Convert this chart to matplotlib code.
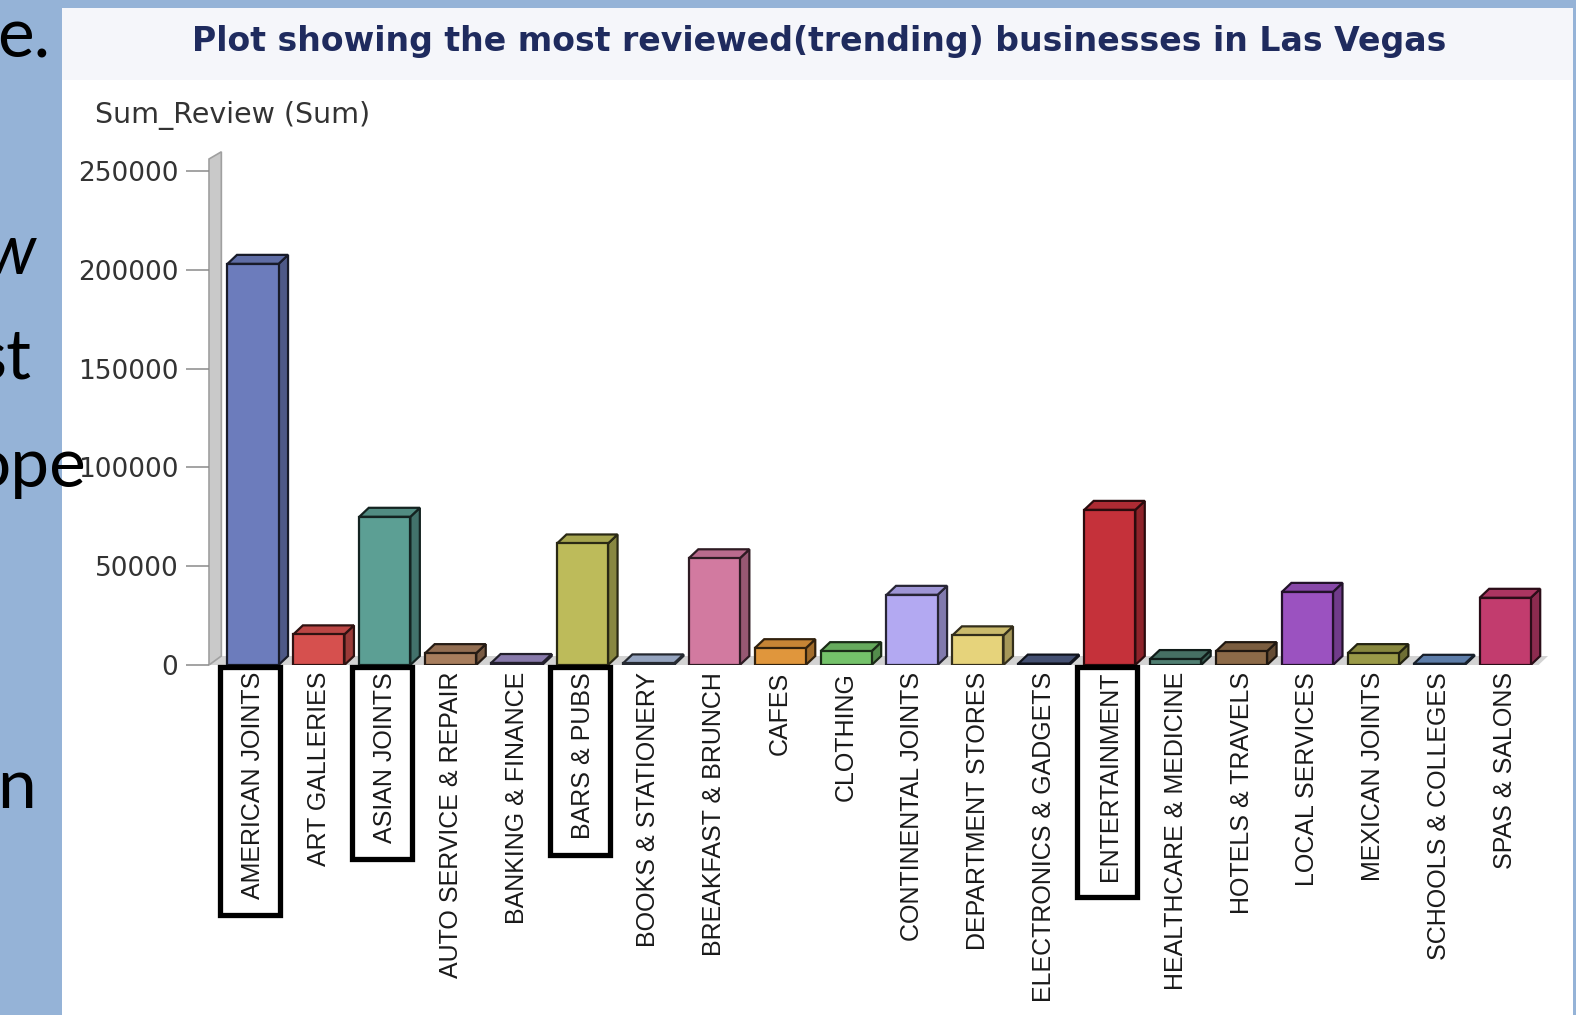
import matplotlib
matplotlib.use("Agg")
import matplotlib.pyplot as plt
from matplotlib.patches import Rectangle, Polygon
from matplotlib.colors import to_rgb

# review totals per business category
categories = ["AMERICAN JOINTS", "ART GALLERIES", "ASIAN JOINTS", "AUTO SERVICE & REPAIR",
              "BANKING & FINANCE", "BARS & PUBS", "BOOKS & STATIONERY", "BREAKFAST & BRUNCH",
              "CAFES", "CLOTHING", "CONTINENTAL JOINTS", "DEPARTMENT STORES",
              "ELECTRONICS & GADGETS", "ENTERTAINMENT", "HEALTHCARE & MEDICINE",
              "HOTELS & TRAVELS", "LOCAL SERVICES", "MEXICAN JOINTS", "SCHOOLS & COLLEGES",
              "SPAS & SALONS"]
sum_review = [203000, 15500, 75000, 6000, 1000, 61500, 800, 54000, 8500, 7000,
              35500, 15000, 700, 78500, 3000, 7000, 37000, 6000, 600, 34000]
bar_colors = ["#6C7CBC", "#D6504E", "#5C9F94", "#A77D5D", "#9B8BC2", "#BDBB5A",
              "#A9BAD9", "#D27AA0", "#E0963C", "#74C26A", "#B3A9F2", "#E6D37B",
              "#4D5B82", "#C5313A", "#4F7E71", "#8C6A48", "#9B52C0", "#9A9A48",
              "#6A8EC0", "#C23C6E"]
highlighted = ["AMERICAN JOINTS", "ASIAN JOINTS", "BARS & PUBS", "ENTERTAINMENT"]
y_ticks = [0, 50000, 100000, 150000, 200000, 250000]

W, H = 1576, 1015
fig = plt.figure(figsize=(W / 100, H / 100), dpi=100)
fig.patch.set_facecolor("#95B3D7")


def fx(px):
    return px / W


def fy(py):
    return 1 - py / H


# chart panel and title band (behind the axes)
fig.patches.append(Rectangle((fx(62), 0), fx(1573 - 62), fy(8), transform=fig.transFigure,
                             facecolor="white", edgecolor="none", zorder=-10))
fig.patches.append(Rectangle((fx(62), fy(80)), fx(1573 - 62), fy(8) - fy(80),
                             transform=fig.transFigure, facecolor="#F5F6FA",
                             edgecolor="none", zorder=-9))

ax = fig.add_axes([fx(209), fy(665), fx(1548 - 209), fy(159) - fy(665)])
ax.set_facecolor("none")
ymax = (665 - 159) / 494 * 250000
ax.set_ylim(0, ymax)
x_left = -44 / 65.9
x_right = 19.65
ax.set_xlim(x_left, x_right)

dx = 9.5 / 65.9
dy = 9 / 494 * 250000
w = 0.775


def shade(c, f):
    r, g, b = to_rgb(c)
    return (r * f, g * f, b * f)


# floor and wall
ax.add_patch(Polygon([(x_left, 0), (x_right - dx, 0), (x_right, dy), (x_left + dx, dy)],
                     closed=True, facecolor="#D3D3D3", edgecolor="none", clip_on=False, zorder=1))
ax.add_patch(Polygon([(x_left, 0), (x_left, ymax), (x_left + dx * 1.3, ymax + dy * 0.8),
                      (x_left + dx * 1.3, dy)],
                     closed=True, facecolor="#C9C9C9", edgecolor="#A0A0A0", lw=1.2,
                     clip_on=False, zorder=1))

for i, (v, c) in enumerate(zip(sum_review, bar_colors)):
    x0 = i - w / 2
    x1 = i + w / 2
    edge = shade(c, 0.22)
    ax.add_patch(Polygon([(x1, 0), (x1 + dx, dy), (x1 + dx, v + dy), (x1, v)], closed=True,
                         facecolor=shade(c, 0.72), edgecolor=edge, lw=1.6, zorder=2))
    ax.add_patch(Polygon([(x0, v), (x1, v), (x1 + dx, v + dy), (x0 + dx, v + dy)], closed=True,
                         facecolor=shade(c, 0.88), edgecolor=edge, lw=1.6, zorder=2))
    ax.add_patch(Rectangle((x0, 0), w, v, facecolor=c, edgecolor=edge, lw=1.6, zorder=3))

for s in ax.spines.values():
    s.set_visible(False)

ax.set_yticks(y_ticks)
ax.set_yticklabels([str(t) for t in y_ticks], fontsize=19, color="#333333",
                   family="DejaVu Sans")
ax.tick_params(axis="y", length=16.5, width=1.1, color="#8A8A8A", pad=5.5)

ax.set_xticks(range(len(categories)))
ax.set_xticklabels(categories, rotation=90, fontsize=18, color="#1A1A1A",
                   family="Liberation Sans")
ax.tick_params(axis="x", length=0, pad=5)

fig.text(fx(95), fy(115), "Sum_Review (Sum)", fontsize=20.5, color="#333333",
         family="DejaVu Sans", ha="left", va="center")

title = fig.text(fx(819.5), fy(42), "Plot showing the most reviewed(trending) businesses in Las Vegas",
                 fontsize=22, fontweight="bold", color="#1F2B5E", family="DejaVu Sans",
                 ha="center", va="center")

fig.canvas.draw()
renderer = fig.canvas.get_renderer()
tw = title.get_window_extent(renderer).width
title.set_fontsize(22 * 1253 / tw)

# boxes around the highlighted category labels
for lab in ax.get_xticklabels():
    if lab.get_text() in highlighted:
        bb = lab.get_window_extent(renderer)
        cx = (bb.x0 + bb.x1) / 2 - 3
        half = 30
        top = bb.y1 + 5
        bot = bb.y0 - 16
        fig.patches.append(Rectangle((cx / W - half / W, bot / H), 2 * half / W, (top - bot) / H,
                                     transform=fig.transFigure, facecolor="none",
                                     edgecolor="black", lw=3.8, zorder=5))

# slide text peeking from behind the chart
slide_font = dict(family="Lato", fontsize=50, color="black", ha="right", va="baseline")
fig.text(fx(50), fy(58), "e.", **slide_font)
fig.text(fx(36), fy(274), "w", style="italic", **slide_font)
fig.text(fx(32), fy(379), "st", **slide_font)
fig.text(fx(86), fy(487), "ope", **slide_font)
fig.text(fx(36), fy(808), "n", **slide_font)

fig.savefig("out.png", dpi=100, facecolor=fig.get_facecolor())
